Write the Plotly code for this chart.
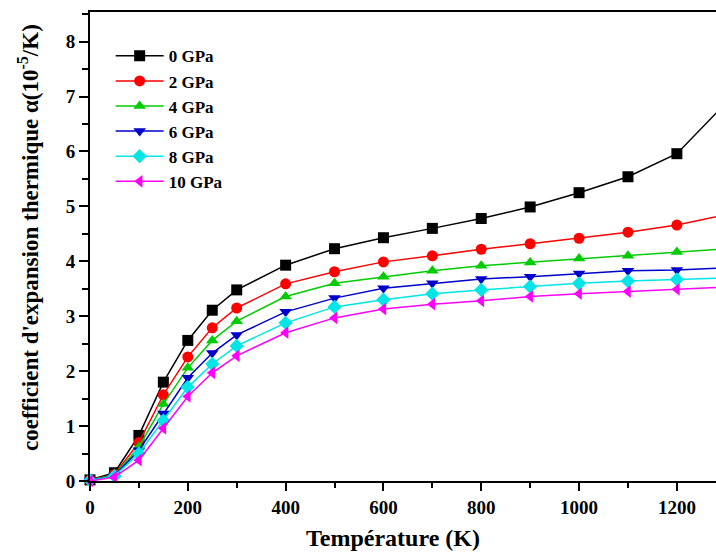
import plotly.graph_objects as go

temperature = [0, 50, 100, 150, 200, 250, 300, 400, 500, 600, 700, 800, 900, 1000, 1100, 1200, 1300]
alpha_0gpa = [0.02, 0.15, 0.83, 1.80, 2.56, 3.11, 3.48, 3.93, 4.23, 4.43, 4.60, 4.78, 4.99, 5.25, 5.54, 5.96, 6.88]
alpha_2gpa = [0.02, 0.12, 0.70, 1.57, 2.26, 2.79, 3.15, 3.59, 3.81, 3.99, 4.10, 4.22, 4.32, 4.42, 4.53, 4.66, 4.85]
alpha_4gpa = [0.02, 0.11, 0.62, 1.40, 2.06, 2.56, 2.91, 3.36, 3.60, 3.72, 3.83, 3.92, 3.98, 4.05, 4.10, 4.17, 4.23]
alpha_6gpa = [0.01, 0.10, 0.56, 1.23, 1.88, 2.33, 2.66, 3.08, 3.33, 3.51, 3.60, 3.68, 3.72, 3.78, 3.83, 3.84, 3.88]
alpha_8gpa = [0.01, 0.09, 0.50, 1.10, 1.71, 2.13, 2.46, 2.88, 3.17, 3.30, 3.41, 3.48, 3.54, 3.60, 3.64, 3.67, 3.70]
alpha_10gpa = [0.00, 0.07, 0.38, 0.96, 1.54, 1.97, 2.28, 2.70, 2.97, 3.13, 3.22, 3.28, 3.36, 3.41, 3.45, 3.49, 3.53]

series_names = ["0 GPa", "2 GPa", "4 GPa", "6 GPa", "8 GPa", "10 GPa"]
series_values = [alpha_0gpa, alpha_2gpa, alpha_4gpa, alpha_6gpa, alpha_8gpa, alpha_10gpa]
colors = ["#000000", "#ff0000", "#00cc00", "#0000cc", "#00e5e5", "#ff00ff"]
symbols = ["square", "circle", "triangle-up", "triangle-down", "diamond", "triangle-left"]

FONT = "Liberation Serif, Times New Roman, serif"

fig = go.Figure()
for name, vals, col, sym in zip(series_names, series_values, colors, symbols):
    fig.add_trace(go.Scatter(
        x=temperature, y=vals, name=name, mode="lines+markers",
        line=dict(color=col, width=1.5),
        marker=dict(symbol=sym, color=col, size=11, line=dict(width=0)),
        cliponaxis=False,
    ))

fig.update_layout(
    width=716, height=557,
    margin=dict(l=90, r=0, t=12, b=76),
    paper_bgcolor="white", plot_bgcolor="white",
    font=dict(family=FONT, color="black", size=18, weight="bold"),
    showlegend=True,
    legend=dict(
        x=0.033, y=0.944, xanchor="left", yanchor="top",
        bgcolor="rgba(0,0,0,0)", borderwidth=0,
        font=dict(family=FONT, size=17, color="black", weight="bold"),
        itemwidth=48, tracegroupgap=0,
    ),
    xaxis=dict(
        range=[0, 1280], tickmode="linear", tick0=0, dtick=200,
        showgrid=False, zeroline=False,
        showline=True, linecolor="black", linewidth=2, mirror=True,
        ticks="outside", ticklen=8, tickwidth=2, tickcolor="black",
        tickfont=dict(family=FONT, size=19, color="black", weight="bold"),
        minor=dict(dtick=100, ticks="outside", ticklen=5, tickwidth=2, tickcolor="black", showgrid=False),
    ),
    yaxis=dict(
        range=[0, 8.54], tickmode="linear", tick0=0, dtick=1,
        showgrid=False, zeroline=False,
        showline=True, linecolor="black", linewidth=2, mirror=False,
        ticks="outside", ticklen=9, tickwidth=2, tickcolor="black",
        tickfont=dict(family=FONT, size=19, color="black", weight="bold"),
        minor=dict(dtick=0.5, ticks="outside", ticklen=6, tickwidth=2, tickcolor="black", showgrid=False),
    ),
    annotations=[
        dict(text="Température (K)", xref="paper", yref="paper",
             x=(393 - 90) / 626, y=(481 - 538) / 469, xanchor="center", yanchor="middle",
             showarrow=False, font=dict(family=FONT, size=24, color="black", weight="bold")),
        dict(text="coefficient d'expansion thermique α(10<sup>-5</sup>/K)", xref="paper", yref="paper",
             x=(28 - 90) / 626, y=(481 - 238) / 469, xanchor="center", yanchor="middle",
             textangle=-90, showarrow=False,
             font=dict(family=FONT, size=23, color="black", weight="bold")),
    ],
)

fig.write_html("out.html")
